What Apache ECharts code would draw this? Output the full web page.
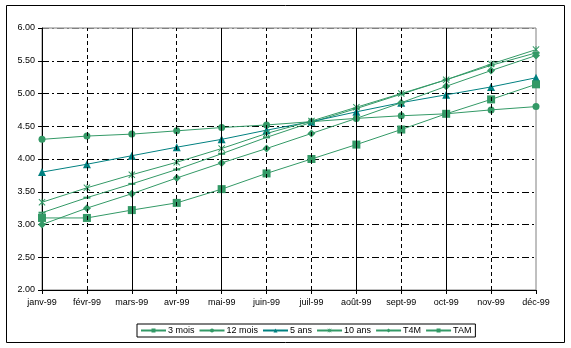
<!DOCTYPE html>
<html><head><meta charset="utf-8">
<script src="https://cdn.jsdelivr.net/npm/echarts@6/dist/echarts.min.js"></script>
<style>html,body{margin:0;padding:0;background:#fff}#c{width:571px;height:348px}</style>
</head><body><div id="c"></div>
<script>
var categories = ['janv-99','févr-99','mars-99','avr-99','mai-99','juin-99','juil-99','août-99','sept-99','oct-99','nov-99','déc-99'];
var yTicks = [2.00, 2.50, 3.00, 3.50, 4.00, 4.50, 5.00, 5.50, 6.00];
var mois3  = [3.18, 3.41, 3.62, 3.84, 4.08, 4.33, 4.56, 4.77, 4.99, 5.21, 5.43, 5.62];
var mois12 = [4.30, 4.35, 4.38, 4.43, 4.48, 4.52, 4.57, 4.62, 4.66, 4.69, 4.75, 4.80];
var ans5   = [3.80, 3.92, 4.05, 4.18, 4.30, 4.44, 4.57, 4.72, 4.86, 4.98, 5.10, 5.24];
var ans10  = [3.34, 3.56, 3.76, 3.95, 4.16, 4.39, 4.58, 4.79, 5.00, 5.21, 5.45, 5.67];
var t4m    = [3.00, 3.25, 3.47, 3.71, 3.94, 4.16, 4.39, 4.62, 4.86, 5.11, 5.35, 5.58];
var tam    = [3.10, 3.10, 3.22, 3.33, 3.54, 3.78, 4.00, 4.22, 4.45, 4.69, 4.91, 5.14];
var solidCats  = ['mars-99','mai-99','août-99','oct-99'];
var dashedCats = ['févr-99','avr-99','juin-99','juil-99','sept-99','nov-99'];

var GREEN = '#339966', TEAL = '#008080';
var FONT = 'Liberation Sans, Arial, sans-serif';
var starPath = 'path://M0,1L1,0L5,4L9,0L10,1L6,5L10,9L9,10L5,6L1,10L0,9L4,5Z M4.4,0L5.6,0L5.6,10L4.4,10Z';

function mk(name, data, symbol, size, color) {
  return {
    name: name, type: 'line', data: data, symbol: symbol, symbolSize: size,
    showSymbol: true, animation: false,
    lineStyle: { color: color, width: 1 },
    itemStyle: { color: color, borderWidth: 0 },
    emphasis: { disabled: true }
  };
}
var vLines = [];
solidCats.forEach(function (c) { vLines.push({ xAxis: c, lineStyle: { type: 'solid', color: '#000', width: 1 } }); });
dashedCats.forEach(function (c) { vLines.push({ xAxis: c, lineStyle: { type: [4, 3], color: '#000', width: 1 } }); });

var series = [
  mk('3 mois', mois3, 'rect', [7, 2], GREEN),
  mk('12 mois', mois12, 'circle', 7, GREEN),
  mk('5 ans', ans5, 'triangle', 8, TEAL),
  mk('10 ans', ans10, starPath, 7, GREEN),
  mk('T4M', t4m, 'diamond', 8, GREEN),
  mk('TAM', tam, 'rect', 8, GREEN)
];
series.unshift({
  type: 'line', data: [], silent: true, animation: false,
  markLine: { symbol: 'none', silent: true, animation: false, label: { show: false }, data: vLines }
});

var chart = echarts.init(document.getElementById('c'), null, { renderer: 'canvas' });
chart.setOption({
  animation: false,
  textStyle: { fontFamily: FONT },
  grid: { left: 42, right: 35, top: 28, bottom: 58, show: true, borderColor: '#808080', borderWidth: 1 },
  legend: {
    data: ['3 mois', '12 mois', '5 ans', '10 ans', 'T4M', 'TAM'],
    left: 137, top: 324, itemWidth: 25, itemHeight: 5, itemGap: 4,
    padding: [2, 4, 2, 3], borderColor: '#000', borderWidth: 1,
    textStyle: { fontFamily: FONT, fontSize: 9, color: '#000', padding: [0, 0, 0, -3] }
  },
  xAxis: {
    type: 'category', data: categories, boundaryGap: false,
    axisLine: { lineStyle: { color: '#000', width: 1 } },
    axisTick: { show: true, length: 4, alignWithLabel: true, lineStyle: { color: '#000' } },
    axisLabel: { color: '#000', fontSize: 9, fontFamily: FONT, margin: 8, interval: 0 },
    splitLine: { show: false }
  },
  yAxis: {
    type: 'value', min: 2, max: 6, interval: 0.5,
    axisLine: { show: true, lineStyle: { color: '#000', width: 1 } },
    axisTick: { show: true, length: 4, lineStyle: { color: '#000' } },
    axisLabel: { color: '#000', fontSize: 9, fontFamily: FONT, margin: 7,
      formatter: function (v) { return v.toFixed(2); } },
    splitLine: { show: true, lineStyle: { color: ['#000','#000','#000','#000','#000','#000','#000','#000','#808080'], type: [7, 3, 2, 3], width: 1 } }
  },
  graphic: [{
    type: 'rect', shape: { x: 6.5, y: 5.5, width: 558, height: 337 },
    style: { fill: 'none', stroke: '#000', lineWidth: 1 }, z: 100, silent: true
  }],
  series: series
});
</script></body></html>
